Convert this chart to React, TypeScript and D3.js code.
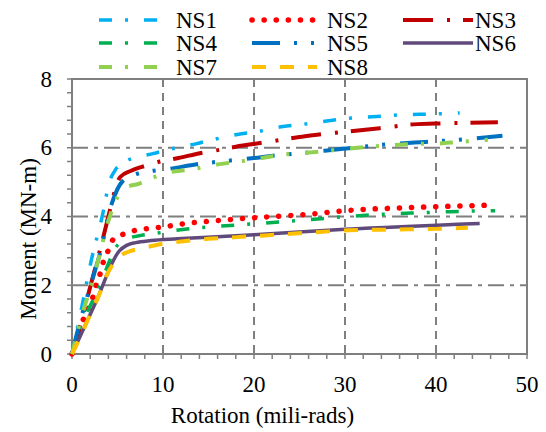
import { useEffect, useRef } from 'react'
import * as d3 from 'd3'

// Momento x rotação
const seriesNames = ['NS1', 'NS2', 'NS3', 'NS4', 'NS5', 'NS6', 'NS7', 'NS8']

const ns1 = [[0, 0], [1.1, 1.4], [2.1, 2.7], [3.4, 4.1], [4.1, 5.0], [4.7, 5.33], [5.9, 5.6], [7.5, 5.75], [8.9, 5.83], [10.5, 5.94], [13.7, 6.12], [15.4, 6.23], [18.5, 6.4], [20.2, 6.46], [23.2, 6.62], [25, 6.67], [28, 6.78], [29.8, 6.84], [33, 6.9], [36.4, 6.96], [39.6, 6.98], [42.6, 7.01]]
const ns2 = [[0, 0], [1.2, 0.98], [1.8, 1.33], [2.3, 1.66], [2.7, 2.05], [3.1, 2.34], [3.4, 2.64], [4.0, 3.02], [4.6, 3.36], [5.8, 3.5], [7, 3.6], [8.4, 3.65], [9.9, 3.69], [12, 3.78], [15, 3.86], [20.4, 3.97], [25.7, 4.06], [31, 4.19], [35, 4.24], [40.7, 4.29], [46, 4.33]]
const ns3 = [[0, 0], [1, 0.95], [2, 1.95], [3, 2.95], [4, 4.0], [4.5, 4.55], [5.3, 5.15], [6.5, 5.33], [8, 5.47], [9.7, 5.6], [11.3, 5.68], [14.4, 5.86], [16.2, 5.94], [18, 6.03], [21, 6.15], [22.7, 6.22], [25, 6.31], [27.6, 6.4], [30, 6.46], [34.2, 6.58], [37.5, 6.68], [40.8, 6.71], [46.8, 6.74]]
const ns4 = [[0, 0], [0.9, 0.78], [2, 1.4], [3.1, 2.0], [4, 2.63], [4.8, 3.1], [6.2, 3.36], [7.6, 3.45], [9.2, 3.51], [11, 3.58], [14.2, 3.68], [17.4, 3.74], [20.7, 3.8], [23.8, 3.86], [27, 3.93], [30.3, 4.0], [35.3, 4.08], [38.5, 4.11], [41.5, 4.14], [46.5, 4.17]]
const ns5 = [[0, 0], [0.5, 0.55], [1, 1.05], [2.1, 2.05], [3.1, 2.95], [4.3, 4.32], [5, 4.8], [5.6, 5.04], [6.9, 5.22], [8.9, 5.33], [10.5, 5.38], [13.7, 5.52], [17.1, 5.62], [20, 5.7], [22.1, 5.77], [25, 5.84], [29.8, 5.97], [35.7, 6.12], [38.8, 6.17], [42.3, 6.23], [47.3, 6.35]]
const ns6 = [[0, 0], [2.6, 1.5], [5.2, 3.0], [6, 3.16], [7, 3.24], [8.7, 3.3], [11.6, 3.35], [20, 3.47], [30, 3.63], [44.8, 3.8]]
const ns7 = [[0, 0], [0.7, 0.75], [1.2, 1.22], [2.1, 2.0], [2.9, 2.75], [3.7, 3.6], [4.8, 4.46], [5.9, 4.84], [7.3, 4.95], [8.9, 5.13], [10.5, 5.28], [11.9, 5.33], [13.5, 5.39], [15.9, 5.51], [18.4, 5.6], [20.6, 5.69], [23.2, 5.8], [25.6, 5.85], [28, 5.91], [30.5, 5.98], [35.3, 6.08], [37.8, 6.11], [40, 6.12], [42.5, 6.17], [45.7, 6.23]]
const ns8 = [[0, 0], [1, 0.55], [2, 1.15], [3.2, 1.86], [3.7, 2.23], [4.6, 2.65], [5.4, 2.87], [6.5, 3.0], [8.1, 3.1], [9.4, 3.18], [12, 3.27], [15, 3.35], [18.1, 3.4], [21.2, 3.45], [24.1, 3.5], [27.2, 3.55], [30.4, 3.6], [35, 3.62], [40, 3.64], [43.5, 3.67]]

const xTicks = [0, 10, 20, 30, 40, 50]
const yTicks = [0, 2, 4, 6, 8]

// estilo de cada série (cor, tracejado)
const lineStyles = [
  { color: '#00B0F0', dash: '13,13,3,16', width: 3.5, cap: 'butt' },
  { color: '#FF0000', dash: '0.1,12', width: 5.5, cap: 'round' },
  { color: '#C00000', dash: '30,14,3,13', width: 4, cap: 'butt' },
  { color: '#00B050', dash: '13,13,3,16', width: 3.5, cap: 'butt' },
  { color: '#0070C0', dash: '28,14,3,14,3,15', width: 4, cap: 'butt' },
  { color: '#604A7B', dash: null, width: 3.5, cap: 'butt' },
  { color: '#92D050', dash: '13,13,3,16', width: 4, cap: 'butt' },
  { color: '#FFC000', dash: '14,14', width: 4, cap: 'butt' }
]

const FONT = "'Liberation Serif', 'DejaVu Serif', serif"

function App() {
  const svgRef = useRef(null)
  const width = 546
  const height = 432

  useEffect(() => {
    const allData = [ns1, ns2, ns3, ns4, ns5, ns6, ns7, ns8]
    const svg = d3.select(svgRef.current)
    svg.selectAll('*').remove()

    const margin = { top: 79, right: 19, bottom: 78, left: 72 }
    const innerWidth = width - margin.left - margin.right
    const innerHeight = height - margin.top - margin.bottom

    const x = d3.scaleLinear().domain([0, 50]).range([0, innerWidth])
    const y = d3.scaleLinear().domain([0, 8]).range([innerHeight, 0])

    const g = svg.append('g').attr('transform', `translate(${margin.left},${margin.top})`)
    const grey = '#7f7f7f'

    // grades
    g.selectAll('.vgrid')
      .data(xTicks.slice(1, -1))
      .enter()
      .append('line')
      .attr('x1', d => x(d)).attr('x2', d => x(d))
      .attr('y1', 0).attr('y2', innerHeight)
      .attr('stroke', grey).attr('stroke-width', 2)
      .attr('stroke-dasharray', '8,6')

    g.selectAll('.hgrid')
      .data(yTicks.slice(1, -1))
      .enter()
      .append('line')
      .attr('x1', 0).attr('x2', innerWidth)
      .attr('y1', d => y(d)).attr('y2', d => y(d))
      .attr('stroke', grey).attr('stroke-width', 2)
      .attr('stroke-dasharray', '16,6,4,6')

    // moldura
    g.append('rect')
      .attr('x', 0).attr('y', 0)
      .attr('width', innerWidth).attr('height', innerHeight)
      .attr('fill', 'none').attr('stroke', grey).attr('stroke-width', 2)

    // marcas dos eixos (menores)
    g.selectAll('.xtick')
      .data(d3.range(0, 50.01, 2))
      .enter()
      .append('line')
      .attr('x1', d => x(d)).attr('x2', d => x(d))
      .attr('y1', innerHeight).attr('y2', innerHeight + 5)
      .attr('stroke', grey).attr('stroke-width', 1.5)

    g.selectAll('.ytick')
      .data(d3.range(0, 8.01, 0.4))
      .enter()
      .append('line')
      .attr('x1', -5).attr('x2', 0)
      .attr('y1', d => y(d)).attr('y2', d => y(d))
      .attr('stroke', grey).attr('stroke-width', 1.5)

    // rótulos
    g.selectAll('.xlabel')
      .data(xTicks)
      .enter()
      .append('text')
      .attr('x', d => x(d))
      .attr('y', innerHeight + 38)
      .attr('text-anchor', 'middle')
      .attr('font-family', FONT).attr('font-size', 23).attr('fill', '#000')
      .text(d => d)

    g.selectAll('.ylabel')
      .data(yTicks)
      .enter()
      .append('text')
      .attr('x', -20)
      .attr('y', d => y(d))
      .attr('dy', '0.33em')
      .attr('text-anchor', 'end')
      .attr('font-family', FONT).attr('font-size', 23).attr('fill', '#000')
      .text(d => d)

    svg.append('text')
      .attr('x', margin.left + innerWidth / 2 - 37)
      .attr('y', 423)
      .attr('text-anchor', 'middle')
      .attr('font-family', FONT).attr('font-size', 23)
      .text('Rotation (mili-rads)')

    svg.append('text')
      .attr('transform', 'translate(36,239) rotate(-90)')
      .attr('text-anchor', 'middle')
      .attr('font-family', FONT).attr('font-size', 23)
      .text('Moment (MN-m)')

    // curvas
    const line = d3.line()
      .x(d => x(d[0]))
      .y(d => y(d[1]))
      .curve(d3.curveMonotoneX)

    allData.forEach((serie, i) => {
      const st = lineStyles[i]
      g.append('path')
        .datum(serie)
        .attr('d', line)
        .attr('fill', 'none')
        .attr('stroke', st.color)
        .attr('stroke-width', st.width)
        .attr('stroke-linecap', st.cap)
        .attr('stroke-dasharray', st.dash)
    })

    // legenda
    const colX = [99, 252, 403]
    const colLen = [62, 65, 70]
    const textX = [176, 327, 475]
    const rowY = [20, 43, 67]

    seriesNames.forEach((name, i) => {
      const col = i % 3
      const row = Math.floor(i / 3)
      const st = lineStyles[i]
      svg.append('line')
        .attr('x1', colX[col]).attr('x2', colX[col] + colLen[col])
        .attr('y1', rowY[row]).attr('y2', rowY[row])
        .attr('stroke', st.color)
        .attr('stroke-width', st.width)
        .attr('stroke-linecap', st.cap)
        .attr('stroke-dasharray', st.dash)
      svg.append('text')
        .attr('x', textX[col])
        .attr('y', rowY[row] + 8)
        .attr('font-family', FONT).attr('font-size', 23)
        .text(name)
    })
  }, [])

  return (
    <svg ref={svgRef} width={width} height={height}
      style={{ position: 'absolute', left: 0, top: 0, background: '#fff' }} />
  )
}

export default App
